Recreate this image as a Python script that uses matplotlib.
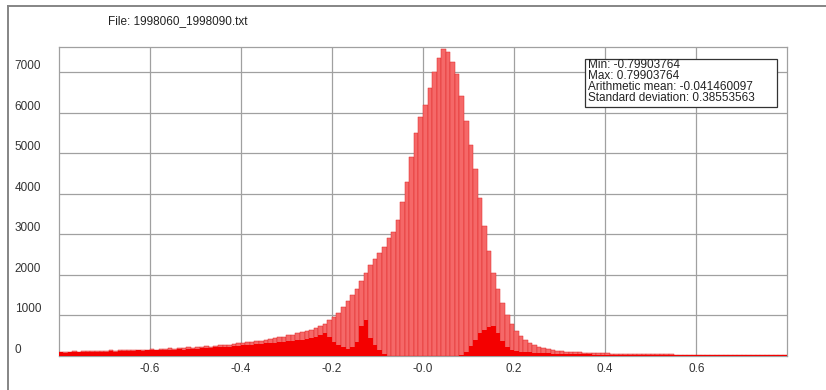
import numpy as np
import matplotlib
matplotlib.use("Agg")
import matplotlib.pyplot as plt
from matplotlib.lines import Line2D
from matplotlib.patches import Rectangle

plt.rcParams['font.family'] = ['Liberation Sans', 'DejaVu Sans']

file_name = "File: 1998060_1998090.txt"
stats_lines = [
    "Min: -0.79903764",
    "Max: 0.79903764",
    "Arithmetic mean: -0.041460097",
    "Standard deviation: 0.38553563",
]

# histogram bins, 0.01 wide, from -0.8 to 0.8
bin_start = -0.8
bin_width = 0.01

# counts of the tall (odd) sub-bins
upper = [
    # -0.80 .. -0.70
    110, 100, 110, 120, 110, 120, 120, 130, 120, 130,
    # -0.70 .. -0.60
    130, 140, 130, 140, 150, 140, 150, 160, 150, 160,
    # -0.60 .. -0.50
    170, 160, 180, 170, 190, 180, 200, 190, 210, 200,
    # -0.50 .. -0.40
    220, 230, 240, 230, 250, 260, 270, 280, 300, 310,
    # -0.40 .. -0.30
    330, 340, 350, 370, 380, 400, 420, 440, 460, 480,
    # -0.30 .. -0.20
    510, 530, 560, 580, 620, 650, 700, 740, 800, 880,
    # -0.20 .. -0.10
    950, 1050, 1200, 1350, 1500, 1650, 1850, 2050, 2250, 2400,
    # -0.10 .. 0.00
    2550, 2700, 2900, 3050, 3350, 3800, 4300, 4900, 5500, 5900,
    # 0.00 .. 0.10
    6200, 6600, 7000, 7350, 7580, 7500, 7250, 6950, 6400, 5800,
    # 0.10 .. 0.20
    5200, 4600, 3900, 3200, 2600, 2050, 1650, 1300, 1000, 800,
    # 0.20 .. 0.30
    620, 500, 400, 330, 270, 230, 200, 170, 150, 130,
    # 0.30 .. 0.40
    120, 110, 100, 95, 90, 85, 80, 75, 70, 65,
    # 0.40 .. 0.50
    62, 60, 58, 55, 52, 50, 48, 46, 45, 44,
    # 0.50 .. 0.60
    42, 40, 40, 38, 38, 36, 36, 35, 34, 34,
    # 0.60 .. 0.70
    33, 32, 32, 31, 30, 30, 29, 29, 28, 28,
    # 0.70 .. 0.80
    27, 27, 26, 26, 25, 25, 24, 24, 23, 23,
]

# counts of the short (even) sub-bins
lower = [
    # -0.80 .. -0.70
    90, 80, 90, 100, 90, 100, 100, 110, 100, 110,
    # -0.70 .. -0.60
    110, 120, 110, 120, 130, 120, 130, 140, 130, 140,
    # -0.60 .. -0.50
    140, 140, 150, 150, 160, 150, 170, 160, 180, 170,
    # -0.50 .. -0.40
    180, 190, 200, 190, 210, 210, 220, 230, 240, 250,
    # -0.40 .. -0.30
    260, 270, 280, 290, 300, 310, 320, 330, 340, 350,
    # -0.30 .. -0.20
    360, 380, 390, 400, 420, 450, 480, 520, 560, 480,
    # -0.20 .. -0.10
    350, 280, 220, 180, 220, 350, 750, 880, 450, 280,
    # -0.10 .. 0.00
    150, 50, 0, 0, 0, 0, 0, 0, 0, 0,
    # 0.00 .. 0.10
    0, 0, 0, 0, 0, 0, 0, 0, 30, 100,
    # 0.10 .. 0.20
    250, 400, 560, 650, 720, 740, 560, 380, 220, 160,
    # 0.20 .. 0.30
    130, 110, 100, 90, 80, 75, 70, 65, 60, 55,
    # 0.30 .. 0.40
    50, 48, 46, 44, 42, 40, 38, 36, 35, 34,
    # 0.40 .. 0.50
    33, 32, 31, 30, 30, 29, 28, 28, 27, 27,
    # 0.50 .. 0.60
    26, 26, 25, 25, 24, 24, 23, 23, 22, 22,
    # 0.60 .. 0.70
    21, 21, 20, 20, 20, 19, 19, 18, 18, 18,
    # 0.70 .. 0.80
    17, 17, 17, 16, 16, 16, 15, 15, 15, 15,
]

x_ticks = [-0.6, -0.4, -0.2, 0.0, 0.2, 0.4, 0.6]
x_tick_labels = ["-0.6", "-0.4", "-0.2", "-0.0", "0.2", "0.4", "0.6"]
y_ticks = [0, 1000, 2000, 3000, 4000, 5000, 6000, 7000]

W, H = 826, 390
fig = plt.figure(figsize=(W / 100, H / 100), dpi=100)
fig.patch.set_facecolor('white')
ax = fig.add_axes([59 / W, 1 - 356 / H, (787 - 59) / W, (356 - 47) / H])

centers = bin_start + bin_width * (np.arange(len(upper)) + 0.5)

grid_col = '#a0a0a0'
ax.set_axisbelow(True)
ax.grid(True, color=grid_col, lw=0.9)

# bars sit above the spines so the thin tails stay visible
ax.bar(centers, upper, width=bin_width, color='#f56868',
       edgecolor='#e02828', linewidth=0.35, zorder=3)
ax.bar(centers, lower, width=bin_width, color='#f40000', linewidth=0, zorder=3)

ax.set_xlim(-0.799, 0.799)
ax.set_ylim(0, 7620)
ax.set_xticks(x_ticks)
ax.set_xticklabels(x_tick_labels)
ax.set_yticks(y_ticks)
ax.set_yticklabels([str(v) for v in y_ticks])
ax.tick_params(axis='both', length=0, labelsize=8.5, colors='#333333')
ax.tick_params(axis='x', pad=5)
ax.tick_params(axis='y', pad=32)
plt.setp(ax.get_yticklabels(), ha='left', va='bottom')
for s in ax.spines.values():
    s.set_color(grid_col)
    s.set_linewidth(0.9)

# outer frame
fig.add_artist(Line2D([8 / W, 8 / W], [0, 1 - 6 / H], transform=fig.transFigure,
                      color='#858585', lw=1.4))
fig.add_artist(Line2D([8 / W, 1], [1 - 6 / H, 1 - 6 / H], transform=fig.transFigure,
                      color='#858585', lw=1.4))

fig.text(108 / W, 1 - 21 / H, file_name, fontsize=8.5, va='center', color='#222222')

# statistics box
fig.add_artist(Rectangle((585 / W, 1 - 107 / H), (777 - 585) / W, (107 - 59) / H,
                         transform=fig.transFigure, facecolor='white',
                         edgecolor='#333333', lw=0.9))
for i, line in enumerate(stats_lines):
    fig.text(588 / W, 1 - (65 + 11 * i) / H, line, fontsize=8.5, va='center',
             color='#222222')

fig.savefig("out.png", dpi=100)
